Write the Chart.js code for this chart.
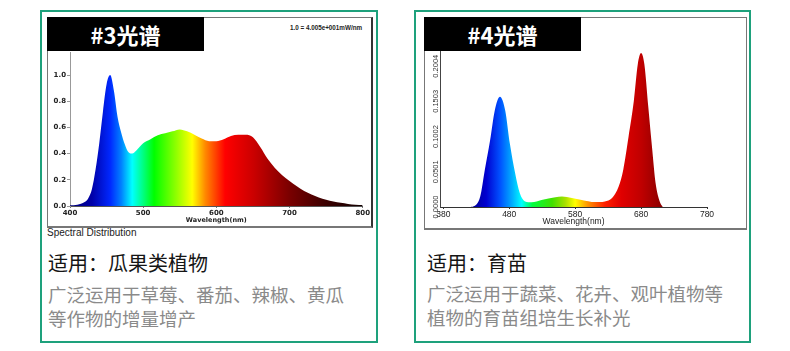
<!DOCTYPE html>
<html>
<head>
<meta charset="utf-8">
<script src="https://cdn.jsdelivr.net/npm/chart.js@4.4.0/dist/chart.umd.min.js"></script>
<style>
  html, body { margin: 0; padding: 0; background: #fff; }
  body { width: 790px; height: 351px; position: relative; overflow: hidden; font-family: "Noto Sans CJK SC", sans-serif; }
  .card { position: absolute; top: 10px; height: 333px; border: 2px solid #1ea17c; box-sizing: border-box; }
  .frame { position: absolute; border: 1px solid #777; border-bottom-width: 2px; box-sizing: border-box; }
  .badge { position: absolute; top: 17px; width: 157px; height: 34px; background: #000; color: #fff;
           font: bold 22px "Noto Sans CJK SC", sans-serif; line-height: 34px; text-align: center; z-index: 2; }
  canvas { position: absolute; z-index: 1; }
  .note { position: absolute; font: bold 6.3px "Liberation Sans", sans-serif; color: #222; white-space: nowrap; }
  .caption { position: absolute; font: 10px "Liberation Sans", sans-serif; color: #222; white-space: nowrap; }
  .use { position: absolute; font-size: 20px; line-height: 24px; color: #151515; white-space: nowrap; }
  .desc { position: absolute; font-size: 18.5px; line-height: 23.5px; color: #8a8a8a; white-space: nowrap; }
</style>
</head>
<body>

<div class="card" style="left:40px;width:338px;"></div>
<div class="card" style="left:414px;width:337px;"></div>

<div class="frame" style="left:47px;top:17px;width:326px;height:211px;border-right:2px solid #333;"></div>
<div class="frame" style="left:424px;top:17px;width:323px;height:213px;"></div>

<div class="badge" style="left:47px;">#3光谱</div>
<div class="badge" style="left:424px;">#4光谱</div>

<div class="note" style="left:290px;top:24px;">1.0 = 4.005e+001mW/nm</div>

<canvas id="chart3" width="323" height="186" style="left:48px;top:40px;"></canvas>
<canvas id="chart4" width="322" height="188" style="left:424px;top:40px;"></canvas>

<div class="caption" style="left:47px;top:227px;">Spectral Distribution</div>

<div class="use" style="left:48px;top:251px;">适用：瓜果类植物</div>
<div class="desc" style="left:48px;top:283px;">广泛运用于草莓、番茄、辣椒、黄瓜<br>等作物的增量增产</div>

<div class="use" style="left:427px;top:251px;">适用：育苗</div>
<div class="desc" style="left:427px;top:282px;">广泛运用于蔬菜、花卉、观叶植物等<br>植物的育苗组培生长补光</div>

<script>
// #3 spectrum (relative, 1.0 = peak)
const wl3 = [400, 410, 420, 425, 430, 435, 440, 445, 450, 455, 460, 465, 470, 475, 480, 485, 490, 495, 500,
             510, 520, 530, 540, 550, 560, 570, 580, 590, 600, 610, 620, 630, 640, 650, 660, 670, 680, 690,
             700, 710, 720, 730, 740, 750, 760, 770, 780, 790, 800];
const val3 = [0.005, 0.01, 0.03, 0.06, 0.13, 0.28, 0.48, 0.72, 0.93, 1.0, 0.88, 0.68, 0.56, 0.47, 0.41, 0.40, 0.42, 0.45, 0.48,
              0.51, 0.54, 0.555, 0.57, 0.585, 0.57, 0.545, 0.515, 0.495, 0.495, 0.51, 0.535, 0.545, 0.545, 0.525, 0.45, 0.36, 0.29, 0.235,
              0.19, 0.15, 0.115, 0.088, 0.065, 0.048, 0.034, 0.024, 0.016, 0.01, 0.008];
const ticks3X = [400, 500, 600, 700, 800];
const ticks3Y = [0, 0.2, 0.4, 0.6, 0.8, 1.0];

// #4 spectrum
const wl4 = [420, 426, 436, 443, 451, 458, 466, 474, 481, 489, 496, 504, 514, 529, 550, 560, 575, 590, 610,
             625, 636, 646, 653, 661, 669, 675, 680, 685, 691, 697, 702, 709, 713];
const val4 = [0, 0.001, 0.015, 0.053, 0.095, 0.137, 0.157, 0.137, 0.09, 0.048, 0.02, 0.008, 0.0066, 0.010, 0.014, 0.015, 0.0127, 0.010, 0.007,
              0.008, 0.0127, 0.029, 0.053, 0.10, 0.151, 0.203, 0.219, 0.203, 0.142, 0.081, 0.034, 0.006, 0];
const ticks4X = [380, 480, 580, 680, 780];
const ticks4Y = [0, 0.0501, 0.1002, 0.1503, 0.2004];

// colour along the wavelength axis
const palette3 = [[400, "#000078"], [430, "#0000a8"], [455, "#0028ff"], [470, "#0080ff"], [485, "#00ffff"],
                  [500, "#00ff80"], [515, "#00ff00"], [545, "#90ff00"], [567, "#ffff00"], [585, "#ff8800"],
                  [612, "#ff0000"], [650, "#cc0000"], [700, "#7a0000"], [750, "#3a0000"], [800, "#120000"]];
const palette4 = [[420, "#00008a"], [445, "#0000d0"], [466, "#0050ff"], [485, "#00b0ff"], [499, "#00ffff"],
                  [515, "#00ff40"], [545, "#40e000"], [565, "#a8e000"], [580, "#ffff00"], [600, "#ff9000"],
                  [625, "#ff2000"], [650, "#e00000"], [680, "#c00000"], [713, "#8a0000"]];

function spectrumFill(stops) {
  return (ctx) => {
    const chart = ctx.chart;
    if (!chart.chartArea) return null;
    const xs = chart.scales.x;
    const w0 = stops[0][0];
    const w1 = stops[stops.length - 1][0];
    const g = chart.ctx.createLinearGradient(xs.getPixelForValue(w0), 0, xs.getPixelForValue(w1), 0);
    stops.forEach(([w, c]) => g.addColorStop((w - w0) / (w1 - w0), c));
    return g;
  };
}

const toPoints = (xs, ys) => xs.map((x, i) => ({ x, y: ys[i] }));
const fixTicks = (list) => (scale) => { scale.ticks = list.map((v) => ({ value: v })); };

// #3 chart
new Chart(document.getElementById("chart3"), {
  type: "line",
  data: {
    datasets: [{
      data: toPoints(wl3, val3),
      fill: "origin",
      borderWidth: 0,
      pointRadius: 0,
      cubicInterpolationMode: "monotone",
      backgroundColor: spectrumFill(palette3),
    }],
  },
  options: {
    responsive: false,
    animation: false,
    devicePixelRatio: 1,
    layout: { padding: { top: 12, right: 6, left: 0, bottom: 0 } },
    plugins: { legend: { display: false }, tooltip: { enabled: false } },
    scales: {
      x: {
        type: "linear",
        min: 400,
        max: 800,
        afterBuildTicks: fixTicks(ticks3X),
        afterFit: (s) => { s.height = 20; },
        grid: { drawOnChartArea: false, drawTicks: true, tickLength: 2, color: "#777" },
        border: { color: "#555" },
        ticks: { padding: 1, maxRotation: 0, color: "#222", font: { family: "DejaVu Sans", size: 7, weight: "bold" } },
        title: { display: true, text: "Wavelength(nm)", color: "#222", padding: { top: 0, bottom: 2 },
                 font: { family: "DejaVu Sans", size: 6.5, weight: "bold" } },
      },
      y: {
        min: 0,
        max: 1.176,
        afterBuildTicks: fixTicks(ticks3Y),
        afterFit: (s) => { s.width = 22; },
        grid: { drawOnChartArea: false, drawTicks: true, tickLength: 3, color: "#999" },
        border: { color: "#999" },
        ticks: { padding: 1, color: "#222", callback: (v) => v.toFixed(1),
                 font: { family: "DejaVu Sans", size: 7, weight: "bold" } },
      },
    },
  },
});

// #4 chart
new Chart(document.getElementById("chart4"), {
  type: "line",
  data: {
    datasets: [{
      data: toPoints(wl4, val4),
      fill: "origin",
      borderWidth: 0,
      pointRadius: 0,
      cubicInterpolationMode: "monotone",
      backgroundColor: spectrumFill(palette4),
    }],
  },
  options: {
    responsive: false,
    animation: false,
    devicePixelRatio: 1,
    layout: { padding: { top: 11, right: 39, left: 0, bottom: 0 } },
    plugins: { legend: { display: false }, tooltip: { enabled: false } },
    scales: {
      x: {
        type: "linear",
        min: 375,
        max: 780,
        afterBuildTicks: fixTicks(ticks4X),
        afterFit: (s) => { s.height = 21; },
        grid: { drawOnChartArea: false, drawTicks: true, tickLength: 2, color: "#333" },
        border: { color: "#333" },
        ticks: { padding: 1, maxRotation: 0, color: "#222", font: { family: "Liberation Sans", size: 8.5 } },
        title: { display: true, text: "Wavelength(nm)", color: "#222", padding: { top: 0, bottom: 1 },
                 font: { family: "Liberation Sans", size: 8.5 } },
      },
      y: {
        min: 0,
        max: 0.222,
        afterBuildTicks: fixTicks(ticks4Y),
        afterFit: (s) => { s.width = 16; },
        grid: { drawOnChartArea: false, drawTicks: false },
        border: { color: "#444" },
        ticks: { padding: -7, minRotation: 90, maxRotation: 90, crossAlign: "center", autoSkip: false,
                 color: "#333", callback: (v) => v.toFixed(4),
                 font: { family: "Liberation Sans", size: 7.5 } },
      },
    },
  },
});
</script>
</body>
</html>
